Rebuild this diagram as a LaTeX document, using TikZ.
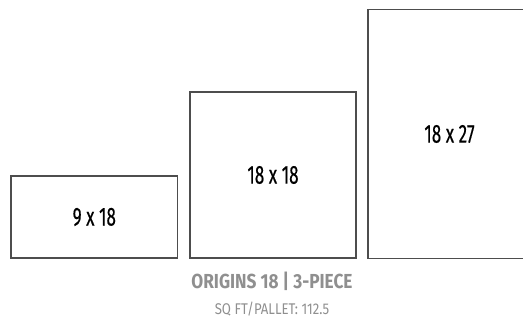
\documentclass[tikz,border=0pt]{standalone}
\usepackage{fontspec}
\setmainfont{Fira Sans}[FakeStretch=0.66]
\newfontfamily\tilefont{Fira Sans}[FakeStretch=0.66,FakeBold=0.3]
\newfontfamily\captfont{Fira Sans}[FakeStretch=0.85]
\usepackage{xcolor}
\usetikzlibrary{positioning}
\definecolor{boxline}{HTML}{4D4D4D}
\definecolor{captgray}{HTML}{8F8F8F}

\begin{document}
\begin{tikzpicture}[x=1pt,y=-1pt,
  tile/.style={draw=boxline,line width=1.2pt,rectangle,inner sep=0pt,
    font=\tilefont\fontsize{26}{28}\selectfont},
  capt/.style={text=captgray,inner sep=0pt,anchor=base}]
\useasboundingbox (0,0) rectangle (523,320);
\node[tile,minimum width=166.6pt,minimum height=82pt](small) at (94.3,217){9 x 18};
\node[tile,minimum width=166pt,minimum height=166pt](square) at (273,175){18 x 18};
\node[tile,minimum width=163pt,minimum height=249pt](tall) at (449.5,134){18 x 27};
\node[capt,font=\captfont\fontsize{20.3}{22}\selectfont\bfseries](title) at (272,289){ORIGINS 18 | 3-PIECE};
\node[capt,font=\captfont\fontsize{15.5}{17}\selectfont](sqft) at (272,315){SQ FT/PALLET: 112.5};
\end{tikzpicture}
\end{document}
